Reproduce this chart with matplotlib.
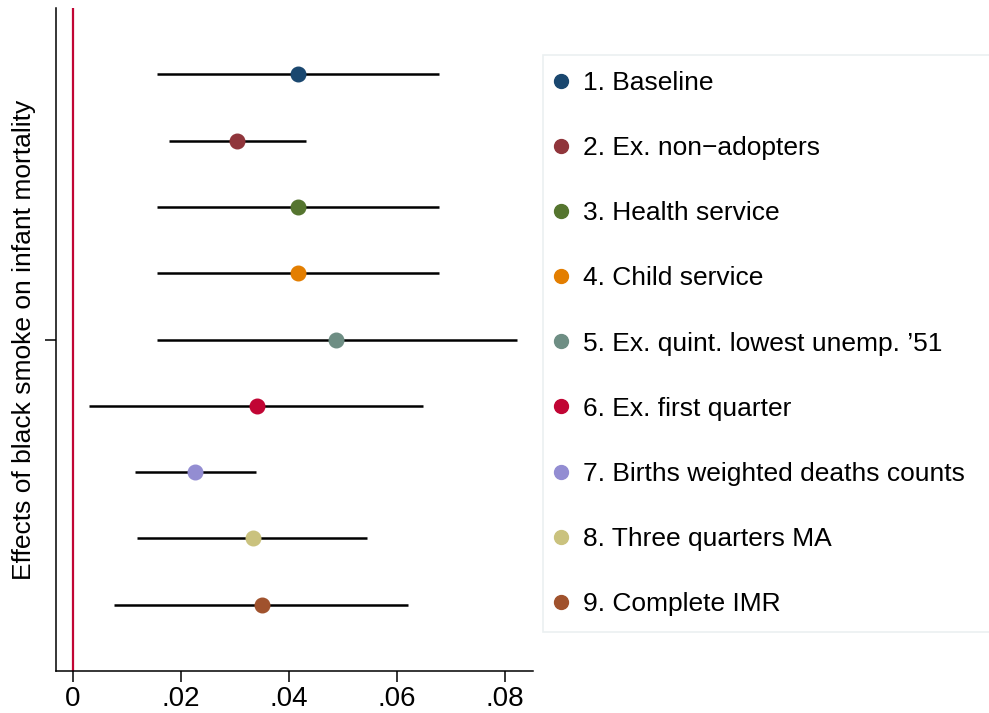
import matplotlib as mpl

mpl.use("Agg")
import matplotlib.pyplot as plt
from matplotlib.lines import Line2D

plt.rcParams["font.family"] = ["Liberation Sans", "DejaVu Sans"]

# point estimates and 95% CIs for each specification
labels = [
    "1. Baseline",
    "2. Ex. non\u2212adopters",
    "3. Health service",
    "4. Child service",
    "5. Ex. quint. lowest unemp. \u201951",
    "6. Ex. first quarter",
    "7. Births weighted deaths counts",
    "8. Three quarters MA",
    "9. Complete IMR",
]
coef = [0.0417, 0.0304, 0.0417, 0.0417, 0.0488, 0.0340, 0.0226, 0.0333, 0.0351]
ci_lo = [0.0156, 0.0177, 0.0156, 0.0156, 0.0156, 0.0030, 0.0114, 0.0118, 0.0076]
ci_hi = [0.0678, 0.0431, 0.0678, 0.0678, 0.0822, 0.0649, 0.0339, 0.0544, 0.0621]
colors = ["#1a476f", "#90353b", "#55752f", "#e37e00", "#6e8e84",
          "#c10534", "#938dd2", "#cac27e", "#a0522d"]
xticks = [0, 0.02, 0.04, 0.06, 0.08]
xticklabels = ["0", ".02", ".04", ".06", ".08"]

W, H = 989, 713
fig = plt.figure(figsize=(W / 100, H / 100), dpi=100)
ax = fig.add_axes([55.7 / W, 1 - 671 / H, (533 - 55.7) / W, (671 - 8) / H])

ax.axvline(0, color="#c10534", lw=1.6, zorder=1)

handles = []
for i, (b, lo, hi, c, lab) in enumerate(zip(coef, ci_lo, ci_hi, colors, labels)):
    y = i + 1
    ax.plot([lo, hi], [y, y], color="black", lw=1.8, solid_capstyle="butt", zorder=2)
    ax.plot([b], [y], "o", ms=10.5, color=c, mec=c, zorder=3)
    handles.append(Line2D([], [], marker="o", ls="", ms=10, color=c, mec=c, label=lab))

ax.set_xlim(-0.0032, 0.0852)
ax.set_ylim(10, 0)
ax.set_xticks(xticks)
ax.set_xticklabels(xticklabels)
ax.set_yticks([5])
ax.set_yticklabels([""])
ax.tick_params(axis="x", labelsize=20, length=8, width=1.1, pad=3)
ax.tick_params(axis="y", length=8, width=1.1)
ax.set_ylabel("Effects of black smoke on infant mortality", fontsize=19)
ax.yaxis.set_label_coords(-0.041, 0.5)
for s in ("top", "right"):
    ax.spines[s].set_visible(False)
for s in ("left", "bottom"):
    ax.spines[s].set_linewidth(1.1)

leg = fig.legend(handles=handles, loc="upper left",
                 bbox_to_anchor=(543 / W, 1 - 55 / H, 1 - 543 / W + 0.02, 0.0),
                 mode="expand", fontsize=19, frameon=True, fancybox=False,
                 labelspacing=1.56, handletextpad=0.72, handlelength=0.2,
                 borderpad=0.6, borderaxespad=0)
leg.get_frame().set_edgecolor("#e6ecee")
leg.get_frame().set_linewidth(1.2)

fig.savefig("out.png", dpi=100)
